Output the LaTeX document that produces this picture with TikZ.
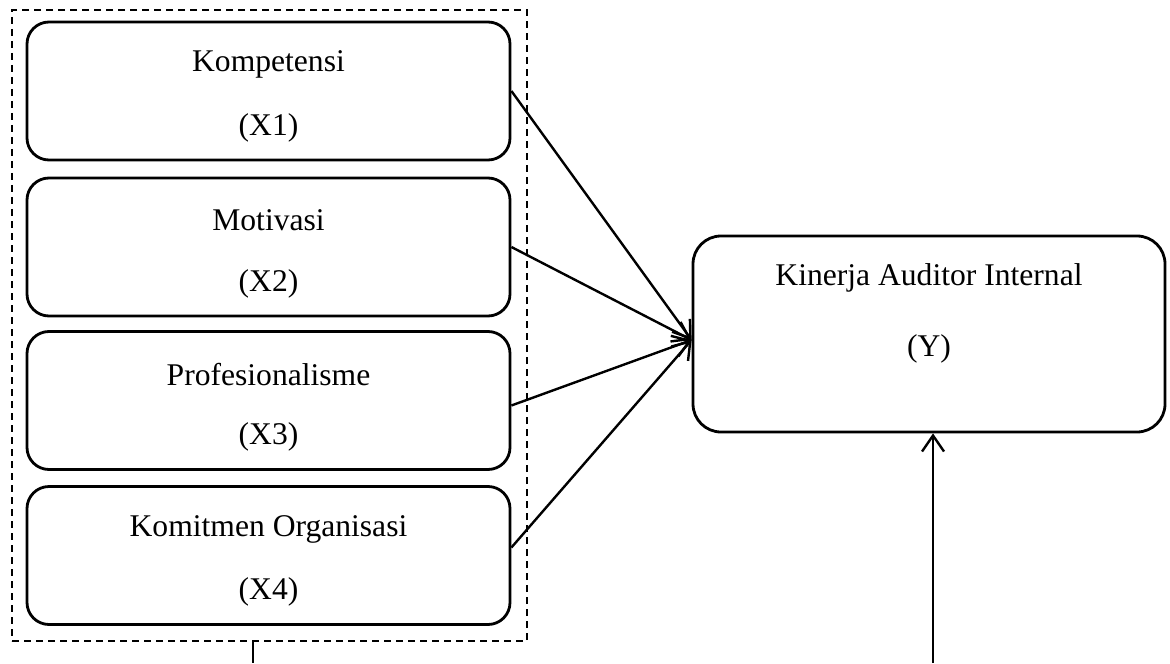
\documentclass[tikz,border=0pt]{standalone}
\usepackage{fontspec}
\setmainfont{Liberation Serif}
\usetikzlibrary{arrows.meta,fit}
\begin{document}
\begin{tikzpicture}[x=0.5pt,y=-0.5pt,
 box/.style={draw,line width=1.4pt,rounded corners=11pt,minimum width=241.5pt,minimum height=69pt,inner sep=0pt},
 ybox/.style={draw,line width=1.4pt,rounded corners=14pt,minimum width=236pt,minimum height=98pt,inner sep=0pt},
 txt/.style={font=\fontsize{15.8}{18}\selectfont,inner sep=0pt},
 conn/.style={line width=1.2pt,-{Straight Barb[length=8pt,width=11pt,line width=1.2pt]}},
 grp/.style={draw,line width=0.75pt,dash pattern=on 3.5pt off 2.5pt,inner sep=0pt},
 plain/.style={line width=1pt}
 ]
\useasboundingbox (0,0) rectangle (1170,663);
\node[grp,fit={(12,10) (527,641)}] (grp) {};
\node[box] (x1) at (268.5,91) {};
\node[box] (x2) at (268.5,247) {};
\node[box] (x3) at (268.5,400.5) {};
\node[box] (x4) at (268.5,555.5) {};
\node[ybox] (y) at (929,334) {};
\node[txt] (t1a) at ([yshift=-22pt]x1.north) {Kompetensi};
\node[txt] (t1b) at ([yshift=-53.5pt]x1.north) {(X1)};
\node[txt] (t2a) at ([yshift=-22pt]x2.north) {Motivasi};
\node[txt] (t2b) at ([yshift=-53.5pt]x2.north) {(X2)};
\node[txt] (t3a) at ([yshift=-22pt]x3.north) {Profesionalisme};
\node[txt] (t3b) at ([yshift=-53.5pt]x3.north) {(X3)};
\node[txt] (t4a) at ([yshift=-22pt]x4.north) {Komitmen Organisasi};
\node[txt] (t4b) at ([yshift=-53.5pt]x4.north) {(X4)};
\node[txt] (tya) at ([yshift=-21.5pt]y.north) {Kinerja Auditor Internal};
\node[txt] (tyb) at ([yshift=-57pt]y.north) {(Y)};
\coordinate (tip) at ([yshift=-3pt]y.west);
\draw[conn] (x1.east) -- (tip);
\draw[conn] (x2.east) -- (tip);
\draw[conn] ([yshift=-2.5pt]x3.east) -- (tip);
\draw[conn] ([yshift=4pt]x4.east) -- (tip);
\coordinate (b1) at (253,663);
\coordinate (b2) at (933,663);
\draw[plain] (grp.south -| b1) -- (b1);
\draw[conn] (b2) -- (b2 |- y.south);
\end{tikzpicture}
\end{document}
